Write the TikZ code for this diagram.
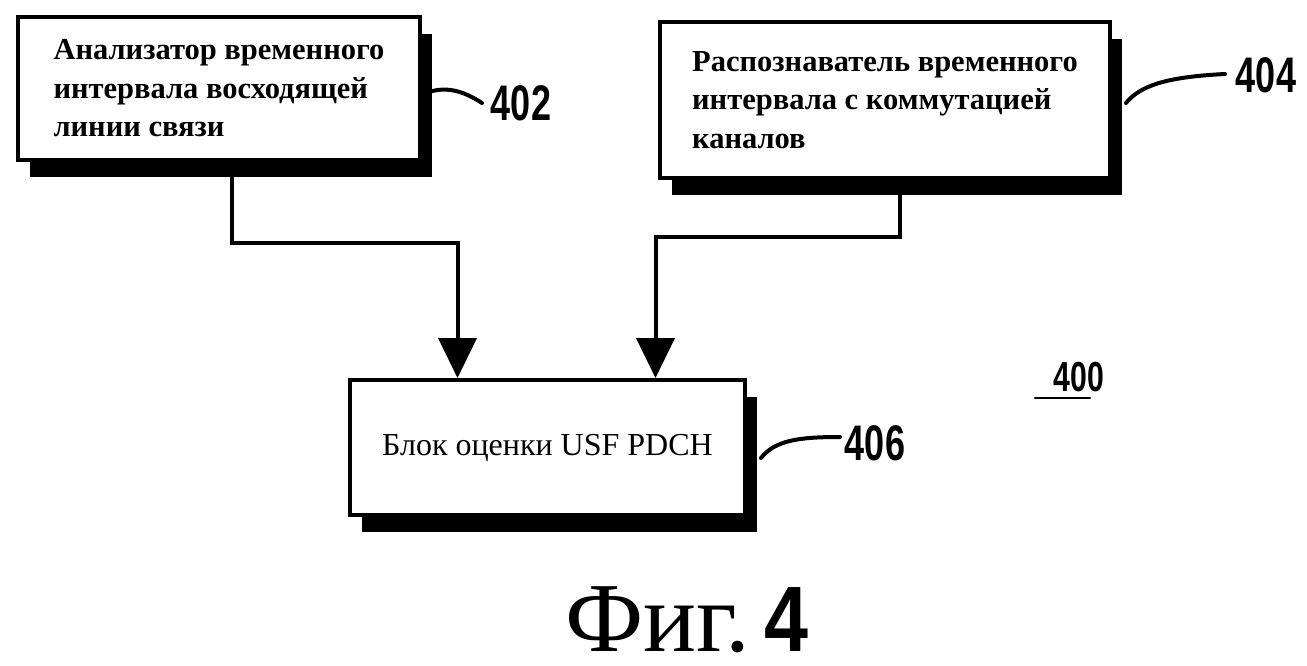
\documentclass[tikz,border=0pt]{standalone}
\usepackage{fontspec}
\setmainfont{Liberation Serif}
\newfontfamily\labfont{Liberation Sans}
\usetikzlibrary{arrows.meta,shadows}
\tikzset{
  blk/.style={draw, line width=4pt, fill=white, align=left,
    drop shadow={shadow xshift=12pt, shadow yshift=-17pt, fill=black, opacity=1},
    font=\fontsize{30.5}{38.5}\selectfont\bfseries},
  conn/.style={line width=4pt, -{Triangle[width=38pt,length=40pt]}},
  squig/.style={line width=4pt, line cap=round},
  lab/.style={font=\fontsize{50}{50}\selectfont\labfont\bfseries, inner sep=0pt}
}
\newcommand{\cond}[1]{\scalebox{0.72}[1]{#1}}
\begin{document}
\begin{tikzpicture}[x=1pt,y=-1pt]
\useasboundingbox (0,0) rectangle (1307,665);
\node[blk, minimum width=402pt, minimum height=143pt] (b402) at (219,88.5)
  {Анализатор временного\\интервала восходящей\\линии связи};
\node[blk, minimum width=450pt, minimum height=156pt] (b404) at (885,100)
  {Распознаватель временного\\интервала с коммутацией\\каналов};
\node[blk, minimum width=395pt, minimum height=135pt, align=center,
  font=\fontsize{32}{36}\selectfont] (b406) at (547.5,447.5)
  {\raisebox{5pt}{Блок оценки USF PDCH}};
\node[lab] (l402) at (521,103) {\cond{402}};
\node[lab] (l404) at (1266,75) {\cond{404}};
\node[lab] (l406) at (875,443) {\cond{406}};
\node[lab, font=\fontsize{42}{42}\selectfont\labfont\bfseries] (l400) at (1079,377) {\cond{400}};
\coordinate (u1) at (1035,398);
\coordinate (u2) at (1090,398);
\draw[line width=2.5pt, line cap=round] (u1) -- (u2);
% connectors
\coordinate (t402) at (232,243);
\coordinate (t404) at (900,237);
\draw[conn] (b402.south -| t402) -- (t402) -| ([xshift=-90pt]b406.north);
\draw[conn] (b404.south -| t404) -- (t404) -| ([xshift=108pt]b406.north);
% squiggles
\draw[squig] ([xshift=4pt]b402.east |- 0,93) .. controls (445,86) and (462,90) .. (482,103);
\draw[squig] ([xshift=14pt]b404.east |- 0,103) .. controls (1140,86) and (1165,77) .. (1225,74);
\draw[squig] ([xshift=14pt]b406.east |- 0,458) .. controls (775,440) and (800,437) .. (840,437);
% caption
\node[inner sep=0pt, anchor=base west] (cap) at (565,651)
  {\fontsize{99}{99}\selectfont Фиг.\hspace{14pt}{\labfont\bfseries\fontsize{93}{93}\selectfont\scalebox{0.85}[1]{4}}};
\end{tikzpicture}
\end{document}
